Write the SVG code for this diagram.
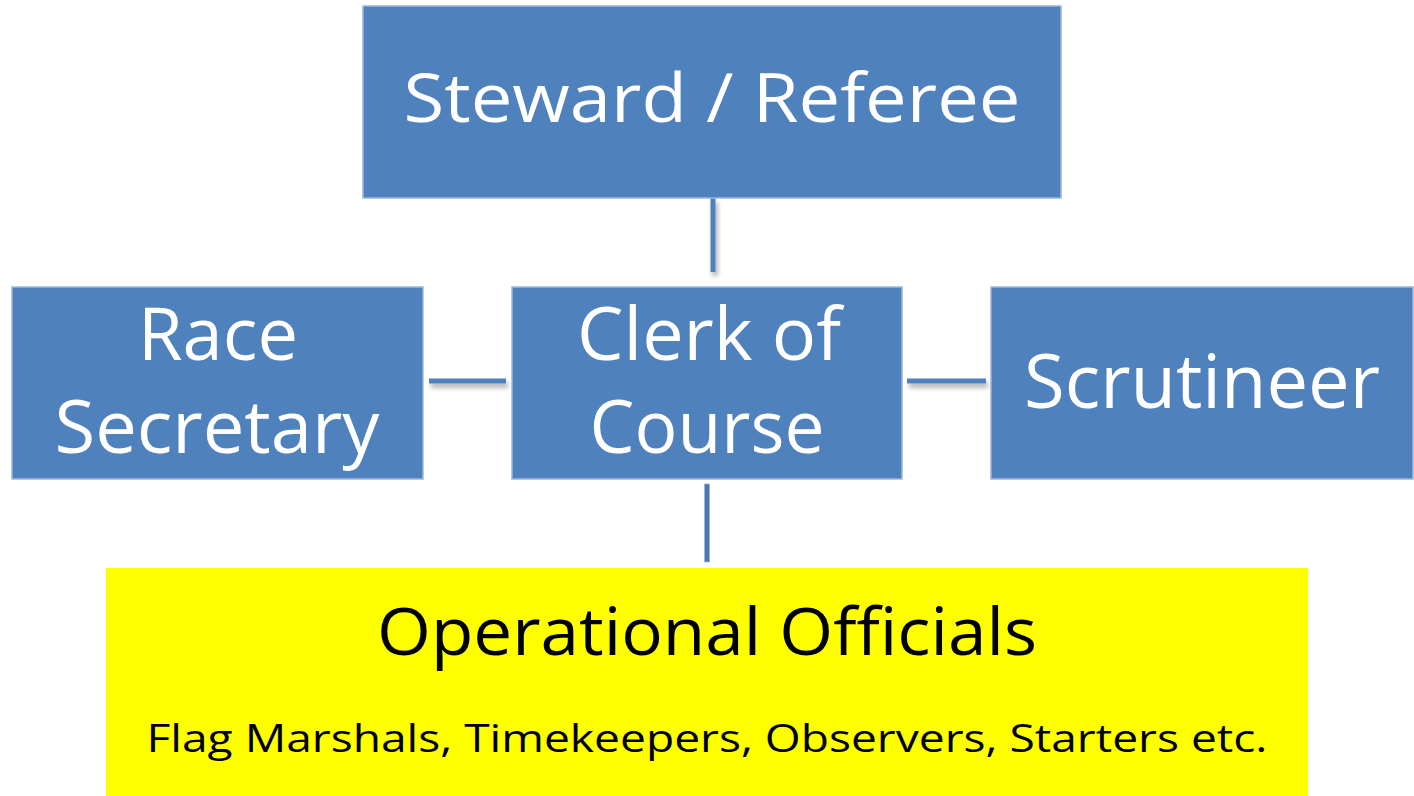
<svg xmlns="http://www.w3.org/2000/svg" width="1414" height="796" viewBox="0 0 1414 796">
  <style>
    .box { fill: #4F81BD; stroke: #9DB7DA; stroke-width: 1.5; }
    .ybox { fill: #FFFF00; stroke: none; }
    .wt { fill: #FFFFFF; font-family: "Open Sans", "Liberation Sans", sans-serif; text-anchor: middle; }
    .bt { fill: #000000; font-family: "Open Sans", "Liberation Sans", sans-serif; text-anchor: middle; }
    .conn { fill: #4F81BD; stroke: none; }
    .conn2 { fill: #4A77B0; stroke: #9DB7DA; stroke-width: 0.8; }
  </style>
  <defs>
    <filter id="sh" filterUnits="userSpaceOnUse" x="0" y="0" width="1414" height="796">
      <feGaussianBlur in="SourceAlpha" stdDeviation="2.5"/>
      <feOffset dx="2" dy="4" result="b"/>
      <feComponentTransfer><feFuncA type="linear" slope="0.35"/></feComponentTransfer>
      <feMerge><feMergeNode/><feMergeNode in="SourceGraphic"/></feMerge>
    </filter>
  </defs>
  <rect width="1414" height="796" fill="#FFFFFF"/>
  <g id="connectors">
    <rect class="conn" x="710.5" y="198" width="5" height="74" filter="url(#sh)"/>
    <rect class="conn" x="429" y="378.5" width="77" height="5" filter="url(#sh)"/>
    <rect class="conn" x="907" y="378.5" width="79" height="5" filter="url(#sh)"/>
    <rect class="conn2" x="704.5" y="484" width="5" height="78"/>
  </g>
  <g id="steward">
    <rect class="box" x="363" y="6" width="698" height="192"/>
    <text class="wt" x="712" y="122" font-size="68" textLength="617" lengthAdjust="spacingAndGlyphs">Steward / Referee</text>
  </g>
  <g id="race-secretary">
    <rect class="box" x="12" y="287" width="411" height="192"/>
    <text class="wt" x="218" y="360" font-size="74" textLength="160" lengthAdjust="spacingAndGlyphs">Race</text>
    <text class="wt" x="217" y="453" font-size="74" textLength="325" lengthAdjust="spacingAndGlyphs">Secretary</text>
  </g>
  <g id="clerk">
    <rect class="box" x="512" y="287" width="390" height="192"/>
    <text class="wt" x="709" y="360" font-size="74" textLength="264" lengthAdjust="spacingAndGlyphs">Clerk of</text>
    <text class="wt" x="707" y="453" font-size="74" textLength="235" lengthAdjust="spacingAndGlyphs">Course</text>
  </g>
  <g id="scrutineer">
    <rect class="box" x="991" y="287" width="422" height="192"/>
    <text class="wt" x="1202" y="408" font-size="75" textLength="356" lengthAdjust="spacingAndGlyphs">Scrutineer</text>
  </g>
  <g id="operational">
    <rect class="ybox" x="106" y="568" width="1202" height="228"/>
    <text class="bt" x="707" y="655" font-size="65" textLength="660" lengthAdjust="spacingAndGlyphs">Operational Officials</text>
    <text class="bt" x="707" y="752" font-size="39" textLength="1121" lengthAdjust="spacingAndGlyphs">Flag Marshals, Timekeepers, Observers, Starters etc.</text>
  </g>
</svg>
